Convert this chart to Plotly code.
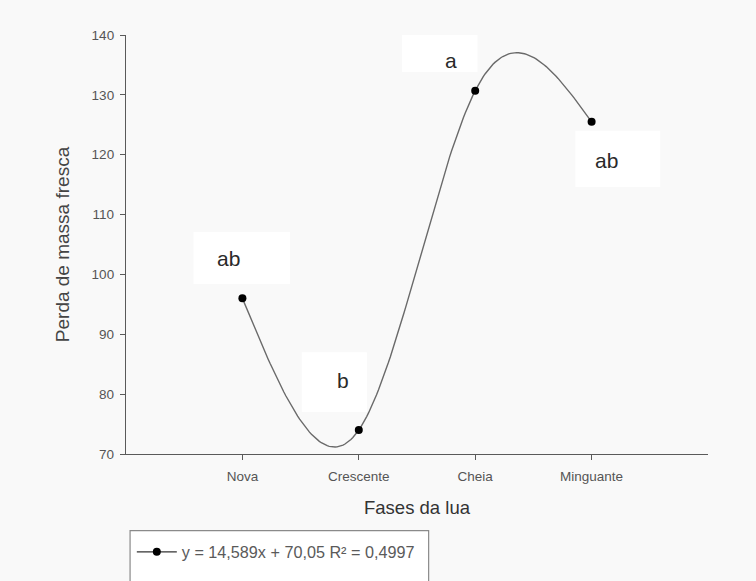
import numpy as np
import plotly.graph_objects as go

# Moon phases and fresh mass loss
phases = ["Nova", "Crescente", "Cheia", "Minguante"]
phase_pos = [1, 2, 3, 4]
mass_loss = [96.0, 74.0, 130.7, 125.5]
letters = ["ab", "b", "a", "ab"]
legend_text = "y = 14,589x + 70,05 R\u00b2 = 0,4997"
y_ticks = [70, 80, 90, 100, 110, 120, 130, 140]

BG = "#f9f9f9"
AXIS = "#5a5a5a"
FONT = "Liberation Sans, Arial, sans-serif"


def natural_spline(xs, ys, n=60):
    """Natural cubic spline through the given points, sampled n times per segment."""
    xs = np.asarray(xs, float)
    ys = np.asarray(ys, float)
    k = len(xs)
    h = np.diff(xs)
    A = np.zeros((k, k))
    b = np.zeros(k)
    A[0, 0] = A[-1, -1] = 1.0
    for i in range(1, k - 1):
        A[i, i - 1] = h[i - 1]
        A[i, i] = 2 * (h[i - 1] + h[i])
        A[i, i + 1] = h[i]
        b[i] = 6 * ((ys[i + 1] - ys[i]) / h[i] - (ys[i] - ys[i - 1]) / h[i - 1])
    M = np.linalg.solve(A, b)
    cx, cy = [], []
    for i in range(k - 1):
        t = np.linspace(xs[i], xs[i + 1], n)
        a = (xs[i + 1] - t) / h[i]
        c = (t - xs[i]) / h[i]
        s = (a * ys[i] + c * ys[i + 1]
             + ((a ** 3 - a) * M[i] + (c ** 3 - c) * M[i + 1]) * h[i] ** 2 / 6)
        cx.extend(t.tolist())
        cy.extend(s.tolist())
    return cx, cy


curve_x, curve_y = natural_spline(phase_pos, mass_loss)

fig = go.Figure()
fig.add_trace(go.Scatter(
    x=curve_x, y=curve_y, mode="lines",
    line=dict(color="#6a6a6a", width=1.4),
    showlegend=False, hoverinfo="skip",
))
fig.add_trace(go.Scatter(
    x=phase_pos, y=mass_loss, mode="markers",
    marker=dict(color="black", size=8),
    name=legend_text, showlegend=False,
))
# legend entry sample (line + marker)
fig.add_trace(go.Scatter(
    x=[None], y=[None], mode="lines+markers",
    line=dict(color="#333333", width=1.4),
    marker=dict(color="black", size=8),
    name=legend_text, showlegend=True,
))

# white boxes behind the letter groups: (x0, x1, y0, y1)
boxes = [(0.58, 1.41, 98.4, 107.1), (1.51, 2.07, 77.0, 87.0),
         (2.37, 3.02, 133.8, 140.3), (3.86, 4.59, 114.6, 124.0)]
text_xy = [(0.88, 102.7), (1.86, 82.2), (2.79, 135.8), (4.13, 119.1)]

for (x0, x1, y0, y1) in boxes:
    fig.add_shape(type="rect", xref="x", yref="y", x0=x0, x1=x1, y0=y0, y1=y1,
                  fillcolor="white", line=dict(width=0), layer="below")
for lab, (tx, ty) in zip(letters, text_xy):
    fig.add_annotation(x=tx, y=ty, xref="x", yref="y", text=lab, showarrow=False,
                       font=dict(family=FONT, size=21, color="#2a2a2a"))

# legend frame
fig.add_shape(type="rect", xref="paper", yref="paper",
              x0=0.007, x1=0.52, y0=-0.183, y1=-0.33,
              fillcolor="white", line=dict(color="#8a8a8a", width=1.2), layer="below")

fig.update_layout(
    width=756, height=581,
    margin=dict(l=126, r=48, t=35, b=126),
    paper_bgcolor=BG, plot_bgcolor=BG,
    font=dict(family=FONT, color="#555555"),
    showlegend=True,
    legend=dict(
        x=0.01, y=-0.19, xanchor="left", yanchor="top",
        bgcolor="rgba(0,0,0,0)", borderwidth=0,
        font=dict(family=FONT, size=16.2, color="#5a5a5a"),
        itemwidth=40,
    ),
    xaxis=dict(
        range=[0, 5], tickvals=phase_pos, ticktext=phases,
        showgrid=False, zeroline=False, showline=True, linecolor=AXIS, linewidth=1.3,
        ticks="outside", ticklen=5, tickcolor=AXIS, ticklabelstandoff=5,
        tickfont=dict(family=FONT, size=13.5, color="#555555"),
        title=dict(text="Fases da lua", font=dict(family=FONT, size=18.5, color="#333333"), standoff=17),
    ),
    yaxis=dict(
        range=[70, 140], tickvals=y_ticks,
        showgrid=False, zeroline=False, showline=True, linecolor=AXIS, linewidth=1.3,
        ticks="outside", ticklen=5, tickcolor=AXIS, ticklabelstandoff=3,
        tickfont=dict(family=FONT, size=13.5, color="#555555"),
        title=dict(text="Perda de massa fresca", font=dict(family=FONT, size=19, color="#444444"), standoff=16),
    ),
)

fig.write_html("out.html")
